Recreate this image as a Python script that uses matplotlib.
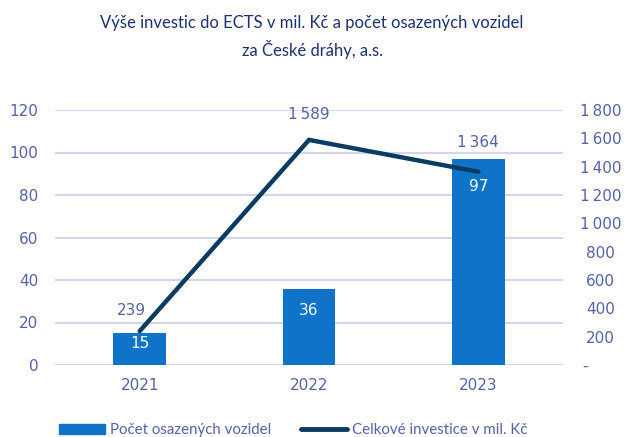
import matplotlib
matplotlib.use("Agg")
import matplotlib.pyplot as plt
from matplotlib.ticker import FuncFormatter, MultipleLocator
from matplotlib.lines import Line2D
from matplotlib.patches import Patch

years = ["2021", "2022", "2023"]
vehicles = [15, 36, 97]
investment = [239, 1589, 1364]

title = "Výše investic do ECTS v mil. Kč a počet osazených vozidel\nza České dráhy, a.s."
bar_label_name = "Počet osazených vozidel"
line_label_name = "Celkové investice v mil. Kč"

BAR_C = "#0f74c9"
LINE_C = "#0b3c60"
TXT_C = "#5562a6"
TITLE_C = "#1c3170"
GRID_C = "#d3d6ea"

fig = plt.figure(figsize=(6.24, 4.37), dpi=100)
ax = fig.add_axes([55/624, 1-365/437, 508/624, 255/437])
x = list(range(len(years)))
ax.bar(x, vehicles, width=0.31, color=BAR_C, zorder=2)
ax.set_xlim(-0.5, 2.5)
ax.set_ylim(0, 120)
ax.yaxis.set_major_locator(MultipleLocator(20))
ax.grid(axis="y", color=GRID_C, linewidth=1.5, zorder=0)
ax.set_axisbelow(True)
for s in ax.spines.values():
    s.set_visible(False)
ax.set_xticks(x)
ax.set_xticklabels(years)
ax.tick_params(axis="both", length=0, colors=TXT_C, labelsize=11)
ax.tick_params(axis="y", pad=12)
ax.tick_params(axis="x", pad=9)

ax2 = ax.twinx()
ax2.set_ylim(0, 1800)
ax2.yaxis.set_major_locator(MultipleLocator(200))
def fmt(v, pos):
    if abs(v) < 1e-9:
        return "-\u2007\u2007\u2007"
    return f"{int(round(v)):,}".replace(",", "\u2009")
ax2.yaxis.set_major_formatter(FuncFormatter(fmt))
ax2.plot(x, investment, color=LINE_C, linewidth=3.2, solid_capstyle="round",
         solid_joinstyle="miter", zorder=3)
for s in ax2.spines.values():
    s.set_visible(False)
ax2.tick_params(axis="y", length=0, colors=TXT_C, labelsize=11, pad=27)
for lbl in ax2.get_yticklabels():
    lbl.set_horizontalalignment("center")

bar_offsets = [-10, -22, -28]
for xi, v, off in zip(x, vehicles, bar_offsets):
    ax.annotate(str(v), (xi, v), xytext=(0, off), textcoords="offset pixels",
                ha="center", va="center", color="white", fontsize=11, zorder=5)
line_offsets = [(-8, 21), (0, 25), (0, 29)]
for xi, v, off in zip(x, investment, line_offsets):
    ax2.annotate(fmt(v, None), (xi, v), xytext=off, textcoords="offset pixels",
                 ha="center", va="center", color=TXT_C, fontsize=11, zorder=5)

fig.text(0.5, 1-37/437, title, ha="center", va="center", color=TITLE_C,
         fontsize=12, family="Lato", linespacing=1.6)

handles = [Patch(color=BAR_C), Line2D([0], [0], color=LINE_C, linewidth=3.5, solid_capstyle="round")]
leg = fig.legend(handles, [bar_label_name, line_label_name], loc="center",
                 bbox_to_anchor=(293.5/624, 1-430/437), ncol=2, frameon=False,
                 handlelength=3.07, handletextpad=0.33, columnspacing=2.0,
                 prop={"family": "Lato", "size": 10.8})
for t in leg.get_texts():
    t.set_color(TXT_C)

fig.savefig("out.png", dpi=100)
